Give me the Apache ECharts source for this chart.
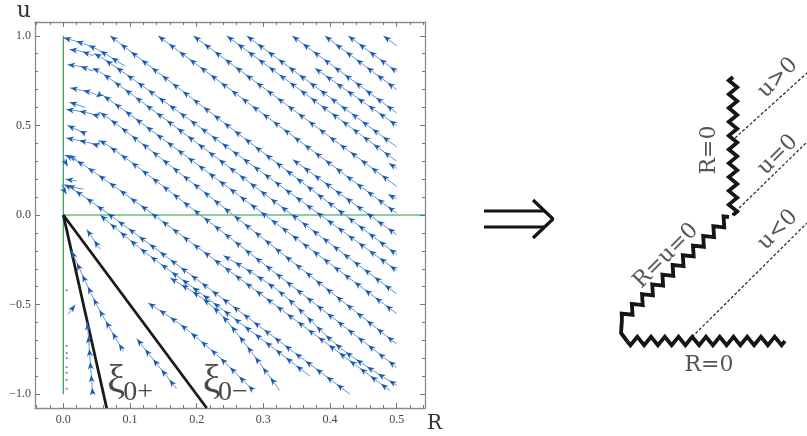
<!DOCTYPE html>
<html>
<head>
<meta charset="utf-8">
<script src="https://cdn.jsdelivr.net/npm/echarts@6/dist/echarts.min.js"></script>
<style>
  html, body { margin: 0; padding: 0; background: #fff; }
  #main { width: 807px; height: 436px; }
</style>
</head>
<body>
<div id="main"></div>
<script>
// left panel: stream plot in the (R, u) plane
const xMajor = [0, 0.1, 0.2, 0.3, 0.4, 0.5]
const xMinor = [-0.04, -0.02, 0.02, 0.04, 0.06, 0.08, 0.12, 0.14, 0.16, 0.18, 0.22, 0.24, 0.26, 0.28,
  0.32, 0.34, 0.36, 0.38, 0.42, 0.44, 0.46, 0.48, 0.52, 0.54]
const yMajor = [-1, -0.5, 0, 0.5, 1]
const yMinor = [-0.9, -0.8, -0.7, -0.6, -0.4, -0.3, -0.2, -0.1, 0.1, 0.2, 0.3, 0.4, 0.6, 0.7, 0.8, 0.9]

// each stream line: points [R, u], head (arrow side) first
const streams = [
  [[0.48, 1.0], [0.5, 0.945]],
  [[0.427, 1.0], [0.5, 0.80]],
  [[0.392, 1.0], [0.5, 0.70]],
  [[0.343, 1.0], [0.5, 0.57]],
  [[0.275, 1.0], [0.5, 0.38]],
  [[0.245, 1.0], [0.5, 0.30]],
  [[0.195, 1.0], [0.5, 0.16]],
  [[0.142, 1.0], [0.5, 0.01]],
  [[0.07, 1.0], [0.5, -0.22]],
  [[0.377, 0.82], [0.5, 0.50]],
  [[0.344, 0.31], [0.5, -0.11]],
  [[0.488, 0.29], [0.5, 0.26]],
  [[0.487, 0.115], [0.5, 0.09]],
  [[0.0, 0.99], [0.045, 0.935], [0.093, 0.83]],
  [[0.009, 0.925], [0.04, 0.895], [0.1, 0.77], [0.5, -0.31]],
  [[0.006, 0.84], [0.04, 0.81], [0.1, 0.68], [0.5, -0.44]],
  [[0.01, 0.71], [0.05, 0.67], [0.1, 0.56], [0.5, -0.55]],
  [[0.009, 0.63], [0.033, 0.60]],
  [[0.004, 0.59], [0.05, 0.555], [0.1, 0.45], [0.5, -0.72]],
  [[0.006, 0.50], [0.033, 0.455]],
  [[0.004, 0.43], [0.05, 0.39], [0.1, 0.30], [0.5, -0.85]],
  [[0.007, 0.33], [0.02, 0.31]],
  [[0.005, 0.27], [0.05, 0.23], [0.49, -0.98]],
  [[0.003, 0.2], [0.02, 0.19]],
  [[0.006, 0.16], [0.03, 0.145]],
  [[0.004, 0.115], [0.04, 0.08], [0.43, -1.0]],
  [[0.035, -0.08], [0.055, -0.19]],
  [[0.055, 0.0], [0.12, -0.2], [0.2, -0.42], [0.3, -0.7], [0.37, -0.9]],
  [[0.012, -0.2], [0.05, -0.5], [0.09, -0.76]],
  [[0.036, -0.6], [0.04, -0.8], [0.044, -1.0]],
  [[0.018, -0.5], [0.007, -0.555]],
  [[0.11, -0.69], [0.17, -0.97]],
  [[0.127, -0.49], [0.175, -0.61], [0.23, -0.78], [0.285, -0.98]],
  [[0.16, -0.35], [0.235, -0.55], [0.325, -0.98]],
  [[0.24, -0.225], [0.325, -0.43], [0.415, -0.74], [0.5, -0.95]]
]
const dots = [[0.005, -0.42], [0.005, -0.73], [0.005, -0.77], [0.005, -0.8], [0.005, -0.85],
  [0.005, -0.88], [0.005, -0.92], [0.005, -0.97]]

const axisV = [[0, -1], [0, 1]]
const axisH = [[0, 0], [0.5425, 0]]
const xiPlus = [[0, 0], [0.065, -1.077]]
const xiMinus = [[0, 0], [0.215, -1.077]]
const xiLabels = [
  { pos: [0.066, -0.93], text: 'ξ', big: true },
  { pos: [0.09, -0.99], text: '0+', big: false },
  { pos: [0.209, -0.93], text: 'ξ', big: true },
  { pos: [0.232, -0.99], text: '0−', big: false }
]

// right panel (units = px inside its own grid)
const zigzags = [
  [[263, 323], [263, 185]],
  [[259, 183], [152, 81]],
  [[157, 59], [315, 59]]
]
const cornerLeft = [[152, 81], [151, 67], [157, 59]]
const dashed = [
  [[265, 262], [337, 327]],
  [[262, 185], [337, 258]],
  [[222, 63], [337, 177]]
]
const diagLabels = [
  { pos: [308, 322], text: 'u>0', rot: 45 },
  { pos: [308, 245], text: 'u=0', rot: 45 },
  { pos: [308, 170], text: 'u<0', rot: 45 },
  { pos: [239, 250], text: 'R=0', rot: 90 },
  { pos: [196, 144], text: 'R=u=0', rot: 45 },
  { pos: [239, 35], text: 'R=0', rot: 0 }
]
const bigArrow = [
  [[14, 189], [75, 189]],
  [[14, 173], [75, 173]],
  [[63, 200], [83, 181], [63, 162]]
]

const chart = echarts.init(document.getElementById('main'))

function smoothPath(pts) {
  if (pts.length < 3) return pts
  const out = []
  for (let i = 0; i < pts.length - 1; i++) {
    const p0 = pts[Math.max(0, i - 1)], p1 = pts[i], p2 = pts[i + 1], p3 = pts[Math.min(pts.length - 1, i + 2)]
    for (let k = 0; k < 10; k++) {
      const t = k / 10, t2 = t * t, t3 = t2 * t
      out.push([0, 1].map(j => 0.5 * (2 * p1[j] + (-p0[j] + p2[j]) * t +
        (2 * p0[j] - 5 * p1[j] + 4 * p2[j] - p3[j]) * t2 + (-p0[j] + 3 * p1[j] - 3 * p2[j] + p3[j]) * t3)))
    }
  }
  out.push(pts[pts.length - 1])
  return out
}

function arrowsAlong(path, first, gap) {
  const res = []
  let total = 0
  for (let i = 1; i < path.length; i++) total += Math.hypot(path[i][0] - path[i - 1][0], path[i][1] - path[i - 1][1])
  let acc = 0, next = first
  for (let i = 1; i < path.length; i++) {
    const [x0, y0] = path[i - 1], [x1, y1] = path[i]
    const seg = Math.hypot(x1 - x0, y1 - y0)
    if (seg === 0) continue
    while (next <= acc + seg && next <= total - 2) {
      const t = (next - acc) / seg
      res.push({ x: x0 + (x1 - x0) * t, y: y0 + (y1 - y0) * t, dx: (x0 - x1) / seg, dy: (y0 - y1) / seg })
      next += gap
    }
    acc += seg
  }
  if (!res.length && total > 0) {
    const [x0, y0] = path[0], [x1, y1] = path[1]
    const seg = Math.hypot(x1 - x0, y1 - y0)
    res.push({ x: x0, y: y0, dx: (x0 - x1) / seg, dy: (y0 - y1) / seg })
  }
  return res
}

function renderStream(params, api) {
  const pts = streams[params.dataIndex].map(p => api.coord(p))
  const path = smoothPath(pts)
  const children = [{
    type: 'polyline',
    shape: { points: path },
    style: { stroke: '#5a96d2', lineWidth: 1, fill: null }
  }]
  for (const a of arrowsAlong(path, 4, 13)) {
    const L = 7.5, W = 3
    const tip = [a.x + a.dx * 3.5, a.y + a.dy * 3.5]
    const back = [tip[0] - a.dx * L, tip[1] - a.dy * L]
    const notch = [tip[0] - a.dx * L * 0.7, tip[1] - a.dy * L * 0.7]
    const nx = -a.dy, ny = a.dx
    children.push({
      type: 'polygon',
      shape: { points: [tip, [back[0] + nx * W, back[1] + ny * W], notch, [back[0] - nx * W, back[1] - ny * W]] },
      style: { fill: '#1a5aac' }
    })
  }
  return { type: 'group', children }
}

function zigzagPts(p1, p2, amp, period) {
  const dx = p2[0] - p1[0], dy = p2[1] - p1[1], len = Math.hypot(dx, dy)
  const ux = dx / len, uy = dy / len, nx = -uy, ny = ux
  const n = Math.max(1, Math.round(len / (period / 2)))
  const step = len / n
  const pts = [p1]
  for (let i = 0; i < n; i++) {
    const t = (i + 0.5) * step, s = i % 2 ? -1 : 1
    pts.push([p1[0] + ux * t + nx * amp * s, p1[1] + uy * t + ny * amp * s])
  }
  pts.push(p2)
  return pts
}

function renderZigzag(params, api) {
  const seg = zigzags[params.dataIndex]
  const p1 = api.coord(seg[0]), p2 = api.coord(seg[1])
  return {
    type: 'polyline',
    shape: { points: zigzagPts(p1, p2, 4.2, 13.8) },
    style: { stroke: '#151515', lineWidth: 3.8, fill: null, lineJoin: 'miter' }
  }
}

const serif = 'Liberation Serif'
const slab = 'DejaVu Serif'

function xAxisDef(position, ticks, len, withLine, withLabel) {
  return {
    type: 'value', gridIndex: 0, position, min: -0.0425, max: 0.5425,
    axisLine: { show: withLine, onZero: false, lineStyle: { color: '#8a8a8a', width: 1.3 } },
    axisTick: { show: true, inside: true, length: len, customValues: ticks, lineStyle: { color: '#777', width: 1 } },
    axisLabel: withLabel ? {
      show: true, customValues: xMajor, formatter: v => v.toFixed(1),
      fontFamily: serif, fontSize: 12, color: '#444', margin: 6
    } : { show: false },
    splitLine: { show: false }
  }
}
function yAxisDef(position, ticks, len, withLine, withLabel) {
  return {
    type: 'value', gridIndex: 0, position, min: -1.077, max: 1.077,
    axisLine: { show: withLine, onZero: false, lineStyle: { color: '#8a8a8a', width: 1.3 } },
    axisTick: { show: true, inside: true, length: len, customValues: ticks, lineStyle: { color: '#777', width: 1 } },
    axisLabel: withLabel ? {
      show: true, customValues: yMajor, formatter: v => (v < 0 ? '−' + Math.abs(v).toFixed(1) : v.toFixed(1)),
      fontFamily: serif, fontSize: 12, color: '#444', margin: 4
    } : { show: false },
    splitLine: { show: false }
  }
}

const xAxes = [
  Object.assign(xAxisDef('bottom', xMajor, 5, true, true), {
    name: 'R', nameLocation: 'end', nameGap: 2,
    nameTextStyle: { fontFamily: slab, fontSize: 20, color: '#333', align: 'left', verticalAlign: 'top', padding: [6, 0, 0, 0] }
  }),
  xAxisDef('bottom', xMinor, 3, false, false),
  xAxisDef('top', xMajor, 5, true, false),
  xAxisDef('top', xMinor, 3, false, false),
  { type: 'value', gridIndex: 1, min: 0, max: 337, show: false }
]
const yAxes = [
  Object.assign(yAxisDef('left', yMajor, 5, true, true), {
    name: 'u', nameLocation: 'end', nameGap: 0,
    nameTextStyle: { fontFamily: slab, fontSize: 22, color: '#333', align: 'right', verticalAlign: 'bottom', padding: [0, 4, 0, 0] }
  }),
  yAxisDef('left', yMinor, 3, false, false),
  yAxisDef('right', yMajor, 5, true, false),
  yAxisDef('right', yMinor, 3, false, false),
  { type: 'value', gridIndex: 1, min: 0, max: 360, show: false }
]

function plainLine(data, color, width, xi, dash) {
  return {
    type: 'line', data, xAxisIndex: xi, yAxisIndex: xi, symbol: 'none', silent: true, animation: false,
    lineStyle: { color, width, type: dash || 'solid' }, z: 3
  }
}

const series = [
  plainLine(axisV, '#1f9d45', 1.1, 0),
  plainLine(axisH, '#1f9d45', 1.1, 0),
  {
    type: 'custom', xAxisIndex: 0, yAxisIndex: 0, renderItem: renderStream, animation: false, silent: true,
    data: streams.map(s => s[0]), encode: { x: 0, y: 1 }, z: 4
  },
  {
    type: 'scatter', xAxisIndex: 0, yAxisIndex: 0, data: dots, symbolSize: 2, silent: true, animation: false,
    itemStyle: { color: '#1b5fb0' }, z: 4
  },
  plainLine(xiPlus, '#1a1a1a', 2.8, 0),
  plainLine(xiMinus, '#1a1a1a', 2.8, 0),
  {
    type: 'scatter', xAxisIndex: 0, yAxisIndex: 0, symbolSize: 0, silent: true, animation: false, z: 6,
    data: xiLabels.map(d => ({
      value: d.pos,
      label: {
        show: true, position: 'inside', formatter: d.text, align: 'left', verticalAlign: 'middle',
        fontFamily: serif, fontSize: d.big ? 40 : 28, color: '#1a1a1a'
      }
    }))
  },
  {
    type: 'custom', xAxisIndex: 4, yAxisIndex: 4, renderItem: renderZigzag, animation: false, silent: true,
    data: zigzags.map(s => [s[0][0], s[0][1], s[1][0], s[1][1]]), encode: { x: [0, 2], y: [1, 3] }, z: 5
  },
  plainLine(cornerLeft, '#151515', 3.8, 4),
  ...dashed.map(d => plainLine(d, '#222', 1.2, 4, [3, 2])),
  ...bigArrow.map(d => plainLine(d, '#151515', 3.2, 4)),
  {
    type: 'scatter', xAxisIndex: 4, yAxisIndex: 4, symbolSize: 0, silent: true, animation: false, z: 6,
    data: diagLabels.map(d => ({
      value: d.pos,
      label: {
        show: true, position: 'inside', formatter: d.text, rotate: d.rot,
        fontFamily: slab, fontSize: 22, color: '#2a2a2a'
      }
    }))
  }
]

chart.setOption({
  animation: false,
  grid: [
    { left: 35, top: 15, width: 390, height: 393 },
    { left: 470, top: 40, width: 337, height: 360 }
  ],
  xAxis: xAxes,
  yAxis: yAxes,
  series
})
</script>
</body>
</html>
